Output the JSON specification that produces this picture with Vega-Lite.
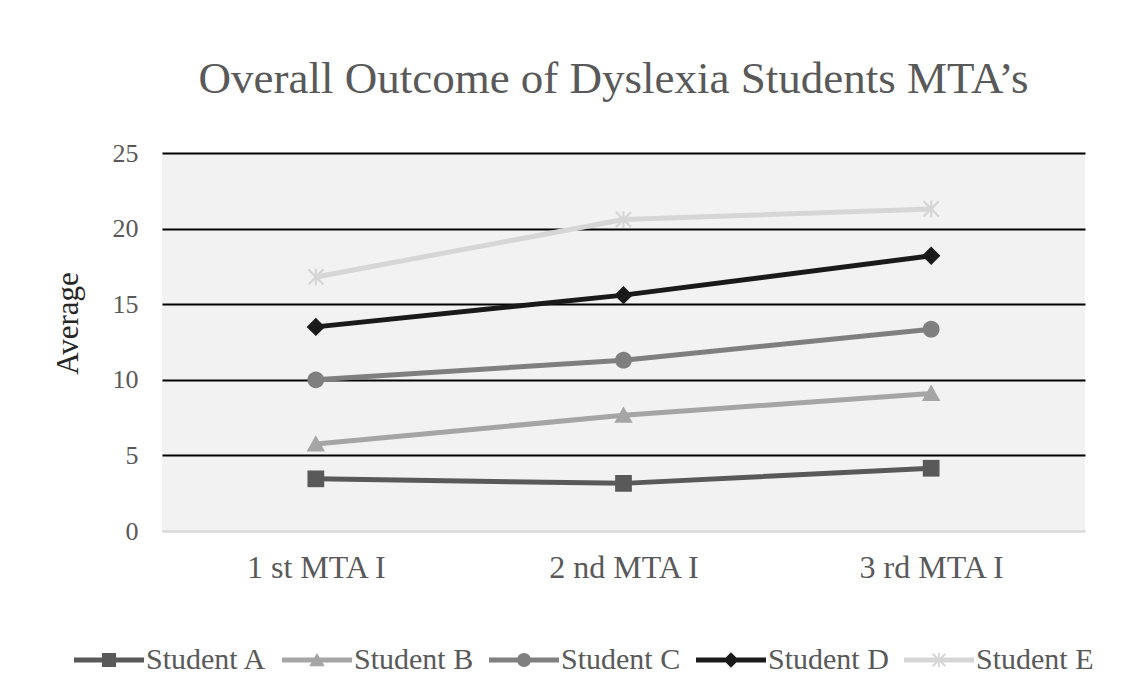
{
  "$schema": "https://vega.github.io/schema/vega-lite/v6.json",
  "autosize": "none",
  "width": 923,
  "height": 378,
  "padding": {"left": 162, "top": 153, "right": 63, "bottom": 164},
  "background": "white",
  "title": {
    "text": "Overall Outcome of Dyslexia Students MTA’s",
    "font": "Liberation Serif",
    "fontSize": 45,
    "fontWeight": "normal",
    "color": "#595959",
    "offset": 38,
    "dx": -10,
    "anchor": "middle"
  },
  "config": {
    "view": {"fill": "#f2f2f2", "stroke": null},
    "font": "Liberation Serif"
  },
  "data": {
    "values": [
      {"mta": "1 st MTA I", "student": "Student A", "value": 3.45},
      {"mta": "2 nd MTA I", "student": "Student A", "value": 3.15},
      {"mta": "3 rd MTA I", "student": "Student A", "value": 4.15},
      {"mta": "1 st MTA I", "student": "Student B", "value": 5.75},
      {"mta": "2 nd MTA I", "student": "Student B", "value": 7.65},
      {"mta": "3 rd MTA I", "student": "Student B", "value": 9.1},
      {"mta": "1 st MTA I", "student": "Student C", "value": 10.0},
      {"mta": "2 nd MTA I", "student": "Student C", "value": 11.3},
      {"mta": "3 rd MTA I", "student": "Student C", "value": 13.35},
      {"mta": "1 st MTA I", "student": "Student D", "value": 13.5},
      {"mta": "2 nd MTA I", "student": "Student D", "value": 15.6},
      {"mta": "3 rd MTA I", "student": "Student D", "value": 18.2},
      {"mta": "1 st MTA I", "student": "Student E", "value": 16.8},
      {"mta": "2 nd MTA I", "student": "Student E", "value": 20.6},
      {"mta": "3 rd MTA I", "student": "Student E", "value": 21.3}
    ]
  },
  "encoding": {
    "x": {
      "field": "mta",
      "type": "nominal",
      "sort": ["1 st MTA I", "2 nd MTA I", "3 rd MTA I"],
      "scale": {"type": "point", "padding": 0.5},
      "axis": {
        "title": null,
        "labelAngle": 0,
        "labelFont": "Liberation Serif",
        "labelFontSize": 32,
        "labelColor": "#595959",
        "labelPadding": 21,
        "ticks": false,
        "domain": true,
        "domainColor": "#d9d9d9",
        "domainWidth": 2,
        "grid": false
      }
    },
    "y": {
      "field": "value",
      "type": "quantitative",
      "scale": {"domain": [0, 25], "nice": false},
      "axis": {
        "title": "Average",
        "titleFont": "Liberation Serif",
        "titleFontSize": 31,
        "titleFontWeight": "normal",
        "titleColor": "#262626",
        "titlePadding": 28,
        "titleY": 170,
        "values": [0, 5, 10, 15, 20, 25],
        "labelFont": "Liberation Serif",
        "labelFontSize": 26,
        "labelColor": "#595959",
        "labelPadding": 24,
        "ticks": false,
        "domain": false,
        "grid": true,
        "gridColor": {"condition": {"test": "datum.value == 0", "value": "#d9d9d9"}, "value": "#000000"},
        "gridWidth": 2,
        "gridOpacity": 1
      }
    },
    "color": {
      "field": "student",
      "type": "nominal",
      "scale": {
        "domain": ["Student A", "Student B", "Student C", "Student D", "Student E"],
        "range": ["#595959", "#a5a5a5", "#7f7f7f", "#1a1a1a", "#d6d6d6"]
      },
      "legend": {
        "title": null,
        "orient": "none",
        "legendX": -68,
        "legendY": 492,
        "direction": "horizontal",
        "columns": 5,
        "symbolSize": 196,
        "symbolOpacity": 1,
        "symbolStrokeWidth": 0,
        "labelFont": "Liberation Serif",
        "labelFontSize": 30,
        "labelColor": "#595959",
        "labelOffset": 22,
        "columnPadding": 15,
        "encode": {
          "symbols": {
            "update": {
              "shape": {
                "signal": "datum.value === 'Student A' ? 'M-5,-0.36H5V0.36H-5ZM-1,-1H1V1H-1Z' : datum.value === 'Student B' ? 'M-5,-0.36H5V0.36H-5ZM0,-1L1.1,0.9H-1.1Z' : datum.value === 'Student C' ? 'M-5,-0.36H5V0.36H-5ZM-1,0A1,1 0 1,1 1,0A1,1 0 1,1 -1,0Z' : datum.value === 'Student D' ? 'M-5,-0.36H5V0.36H-5ZM0,-1.1L1.1,0L0,1.1L-1.1,0Z' : 'M-5,-0.36H5V0.36H-5ZM-0.13,-1H0.13V1H-0.13ZM-0.8,-1L1,0.8L0.8,1L-1,-0.8ZM0.8,-1L1,-0.8L-0.8,1L-1,0.8Z'"
              }
            }
          }
        }
      }
    }
  },
  "layer": [
    {
      "mark": {"type": "line", "strokeWidth": 5}
    },
    {
      "transform": [{"filter": "datum.student === 'Student A'"}],
      "mark": {"type": "point", "filled": true, "opacity": 1, "size": 280, "shape": "M-1,-1H1V1H-1Z"}
    },
    {
      "transform": [{"filter": "datum.student === 'Student B'"}],
      "mark": {"type": "point", "filled": true, "opacity": 1, "size": 280, "shape": "M0,-1.05L1.1,0.9H-1.1Z"}
    },
    {
      "transform": [{"filter": "datum.student === 'Student C'"}],
      "mark": {"type": "point", "filled": true, "opacity": 1, "size": 280, "shape": "M-1,0A1,1 0 1,1 1,0A1,1 0 1,1 -1,0Z"}
    },
    {
      "transform": [{"filter": "datum.student === 'Student D'"}],
      "mark": {"type": "point", "filled": true, "opacity": 1, "size": 280, "shape": "M0,-1.1L1.1,0L0,1.1L-1.1,0Z"}
    },
    {
      "transform": [{"filter": "datum.student === 'Student E'"}],
      "mark": {"type": "point", "filled": true, "opacity": 1, "size": 280, "shape": "M-0.13,-1H0.13V1H-0.13ZM-0.8,-1L1,0.8L0.8,1L-1,-0.8ZM0.8,-1L1,-0.8L-0.8,1L-1,0.8Z"}
    }
  ]
}
